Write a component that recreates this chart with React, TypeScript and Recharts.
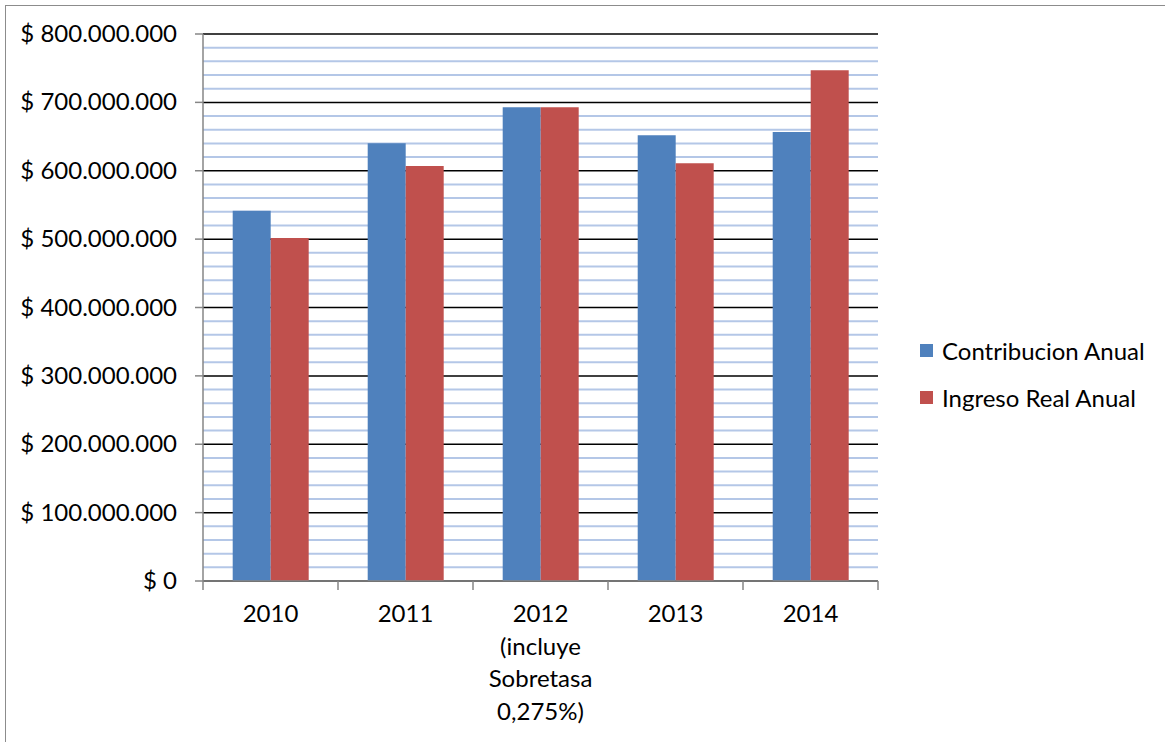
import React from 'react';
import { BarChart, Bar, XAxis, YAxis, CartesianGrid } from 'recharts';

const years = ['2010', '2011', '2012', '2013', '2014'];
const yearNotes = ['', '', '(incluye|Sobretasa|0,275%)', '', ''];
const contribucion = [541600000, 640100000, 692800000, 651800000, 656700000];
const ingresoReal = [501500000, 607000000, 692800000, 610900000, 746900000];
// every 20M step; the ones divisible by 100M are the labelled major lines
const gridTicks = [
  0, 20000000, 40000000, 60000000, 80000000,
  100000000, 120000000, 140000000, 160000000, 180000000,
  200000000, 220000000, 240000000, 260000000, 280000000,
  300000000, 320000000, 340000000, 360000000, 380000000,
  400000000, 420000000, 440000000, 460000000, 480000000,
  500000000, 520000000, 540000000, 560000000, 580000000,
  600000000, 620000000, 640000000, 660000000, 680000000,
  700000000, 720000000, 740000000, 760000000, 780000000,
  800000000,
];

const series = [
  { key: 'contribucion', name: 'Contribucion Anual', color: '#4f81bd' },
  { key: 'ingreso', name: 'Ingreso Real Anual', color: '#c0504d' },
];

const data = years.map((y, i) => ({
  name: y,
  contribucion: contribucion[i],
  ingreso: ingresoReal[i],
}));

const W = 1165;
const H = 742;
const xAxisHeight = 30;
const margin = { top: 34, right: 287, bottom: 161 - xAxisHeight, left: 0 };
const yAxisWidth = 203;
const FONT = 'Lato, "Open Sans", sans-serif';
const FS = 24;
const TICK_SIZE = 8;
const TICK_MARGIN = 18;
const band = (W - margin.left - margin.right - yAxisWidth) / years.length;

const isMajor = (v: number) => v % 100000000 === 0;

const fmtMoney = (v: number) =>
  '$ ' + (v === 0 ? '0' : v.toString().replace(/\B(?=(\d{3})+(?!\d))/g, '.'));

const MoneyTick = (props: any) => {
  const { x, y, payload } = props;
  if (!isMajor(payload.value)) return <g />;
  return (
    <g>
      <line x1={x + TICK_MARGIN} y1={y} x2={x + TICK_MARGIN + TICK_SIZE} y2={y} stroke="#868686" strokeWidth={1.5} />
      <text x={x} y={y} dy={8} textAnchor="end" fill="#000" fontSize={FS} fontFamily={FONT}>
        {fmtMoney(payload.value)}
      </text>
    </g>
  );
};

const YearTick = (props: any) => {
  const { x, y, payload, index } = props;
  const note = yearNotes[index] ? yearNotes[index].split('|') : [];
  const lines = [payload.value, ...note];
  return (
    <g>
      <line x1={x - band / 2} y1={y - 8} x2={x - band / 2} y2={y + 1} stroke="#868686" strokeWidth={1.5} />
      {index === years.length - 1 && (
        <line x1={x + band / 2} y1={y - 8} x2={x + band / 2} y2={y + 1} stroke="#868686" strokeWidth={1.5} />
      )}
      <text x={x} y={y} textAnchor="middle" fill="#000" fontSize={FS} fontFamily={FONT}>
        {lines.map((l: string, i: number) => (
          <tspan key={i} x={x} dy={i === 0 ? 33 : 32.5}>{l}</tspan>
        ))}
      </text>
    </g>
  );
};

const GridLine = (props: any) => {
  const { x1, y1, x2, y2, index } = props;
  const major = isMajor(gridTicks[index] ?? 0);
  return (
    <line
      x1={x1}
      y1={y1}
      x2={x2}
      y2={y2}
      stroke={major ? '#000' : '#b4c7e7'}
      strokeWidth={major ? 1.5 : 2}
    />
  );
};

export default function App() {
  return (
    <div style={{ position: 'absolute', left: 0, top: 0, width: W, height: H, background: '#fff' }}>
      <div style={{ position: 'absolute', left: 5, top: 5, width: W, height: H, borderLeft: '1px solid #8c8c8c', borderTop: '1px solid #8c8c8c' }} />
      <BarChart
        width={W}
        height={H}
        data={data}
        margin={margin}
        barCategoryGap="22%"
        barGap={0}
      >
        <CartesianGrid vertical={false} horizontal={(p: any) => <GridLine {...p} />} />
        <XAxis
          dataKey="name"
          height={xAxisHeight}
          tick={<YearTick />}
          tickLine={false}
          axisLine={{ stroke: '#868686', strokeWidth: 1.5 }}
          interval={0}
        />
        <YAxis
          domain={[0, 800000000]}
          ticks={gridTicks}
          width={yAxisWidth}
          axisLine={{ stroke: '#868686', strokeWidth: 1.5 }}
          tickLine={false}
          tickSize={TICK_SIZE}
          tickMargin={TICK_MARGIN}
          tick={<MoneyTick />}
          interval={0}
        />
        {series.map((s) => (
          <Bar key={s.key} dataKey={s.key} name={s.name} fill={s.color} isAnimationActive={false} />
        ))}
      </BarChart>
      <div style={{ position: 'absolute', left: 920, top: 336, fontFamily: FONT, fontSize: FS, color: '#000' }}>
        {series.map((s) => (
          <div key={s.key} style={{ display: 'flex', alignItems: 'center', height: 28, marginBottom: 19 }}>
            <span style={{ display: 'inline-block', width: 13, height: 13, background: s.color, marginRight: 9 }} />
            <span>{s.name}</span>
          </div>
        ))}
      </div>
    </div>
  );
}
